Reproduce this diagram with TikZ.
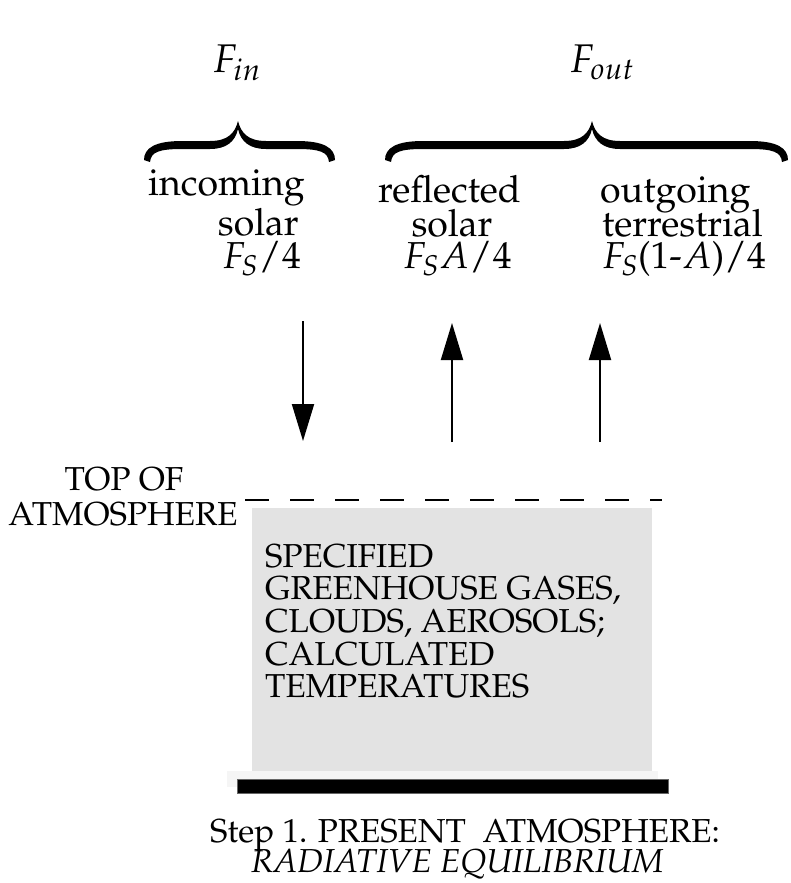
\documentclass[tikz,border=0pt]{standalone}
\usepackage[T1]{fontenc}
\usepackage{mathpazo}
\usetikzlibrary{arrows.meta}
\definecolor{boxgray}{HTML}{E3E3E3}
\definecolor{stripgray}{HTML}{F5F5F5}
\newcommand\mybrace[3]{%
  \fill[black] ({#1-3},160) .. controls ({#1-3},148) and ({#1+8},141) .. ({#1+35},141)
    -- ({#2-28},141) .. controls ({#2-10},141) and ({#2-3},133) .. (#2,121)
    .. controls ({#2+3},133) and ({#2+10},141) .. ({#2+28},141)
    -- ({#3-35},141) .. controls ({#3-8},141) and ({#3+3},148) .. ({#3+3},160)
    -- ({#3-3},162) .. controls ({#3-4},152) and ({#3-12},149) .. ({#3-35},149)
    -- ({#2+28},149) .. controls ({#2+12},149) and ({#2+3},142) .. (#2,129)
    .. controls ({#2-3},142) and ({#2-12},149) .. ({#2-28},149)
    -- ({#1+35},149) .. controls ({#1+12},149) and ({#1+4},152) .. ({#1+3},162) -- cycle;}
\tikzset{
  capstext/.style={inner sep=0pt, anchor=base west, text height=23pt, text depth=5pt,
    font=\fontsize{33.2}{40}\selectfont},
  labeltext/.style={inner sep=0pt, text height=24pt, text depth=6pt,
    font=\fontsize{37.5}{44}\selectfont},
  flabel/.style={inner sep=0pt, anchor=base west, font=\fontsize{40}{48}\selectfont},
  fluxarrow/.style={line width=2pt, -{Triangle[width=22pt,length=37pt]}},
  toaline/.style={line width=1.7pt, dash pattern=on 24pt off 21pt},
}
\begin{document}
\begin{tikzpicture}[x=1pt,y=-1pt]
\useasboundingbox (0,0) rectangle (790,883);

% flux labels
\node[flabel] (fin) at (213,73) {$F_{in}$};
\node[flabel] (fout) at (570,73) {$F_{out}$};

% braces
\mybrace{147}{238}{332}
\mybrace{388}{592}{785}

% incoming
\node[labeltext, anchor=base west] (incoming) at (148,195) {incoming};
\node[labeltext, anchor=base east] (insolar) at (299,235) {solar};
\node[labeltext, anchor=base east] (influx) at (301,268) {$F_S/4$};
% reflected
\node[labeltext, anchor=base west] (reflected) at (378,202) {reflected};
\node[labeltext, anchor=base] (refsolar) at (452,236) {solar};
\node[labeltext, anchor=base west] (refflux) at (403,268) {$F_SA/4$};
% outgoing
\node[labeltext, anchor=base west] (outgoing) at (600,202) {outgoing};
\node[labeltext, anchor=base west] (terrestrial) at (602,236) {terrestrial};
\node[labeltext, anchor=base west] (outflux) at (602,268) {$F_S$(1-$A$)/4};

% arrows
\coordinate (inS) at (303,321);
\coordinate (inE) at (303,441);
\coordinate (refS) at (452,442);
\coordinate (refE) at (452,323);
\coordinate (outS) at (600,442);
\coordinate (outE) at (600,323);
\draw[fluxarrow] (inS) -- (inE);
\draw[fluxarrow] (refS) -- (refE);
\draw[fluxarrow] (outS) -- (outE);

% top of atmosphere
\node[capstext, anchor=base] (topof) at (124,490) {TOP OF};
\node[capstext, anchor=base] (atmos) at (123,525) {ATMOSPHERE};
\coordinate (dashL) at (245,500);
\coordinate (dashR) at (662,500);
\draw[toaline] (dashL) -- (dashR);

% atmosphere box
\fill[boxgray] (252,508) rectangle (652,771);
\fill[stripgray] (227,771) rectangle (658,787);
\filldraw[fill=black, draw=black!60, line width=0.8pt] (237,779) rectangle (668,793);

\node[capstext] (l1) at (265,567) {SPECIFIED};
\node[capstext] (l2) at (265,599.5) {GREENHOUSE GASES,};
\node[capstext] (l3) at (265,632) {CLOUDS, AEROSOLS;};
\node[capstext] (l4) at (265,665) {CALCULATED};
\node[capstext] (l5) at (265,697) {TEMPERATURES};

% caption
\node[capstext] (cap1) at (210,842) {Step 1. PRESENT\ \ ATMOSPHERE:};
\node[capstext] (cap2) at (251,872) {\itshape RADIATIVE EQUILIBRIUM};
\end{tikzpicture}
\end{document}
